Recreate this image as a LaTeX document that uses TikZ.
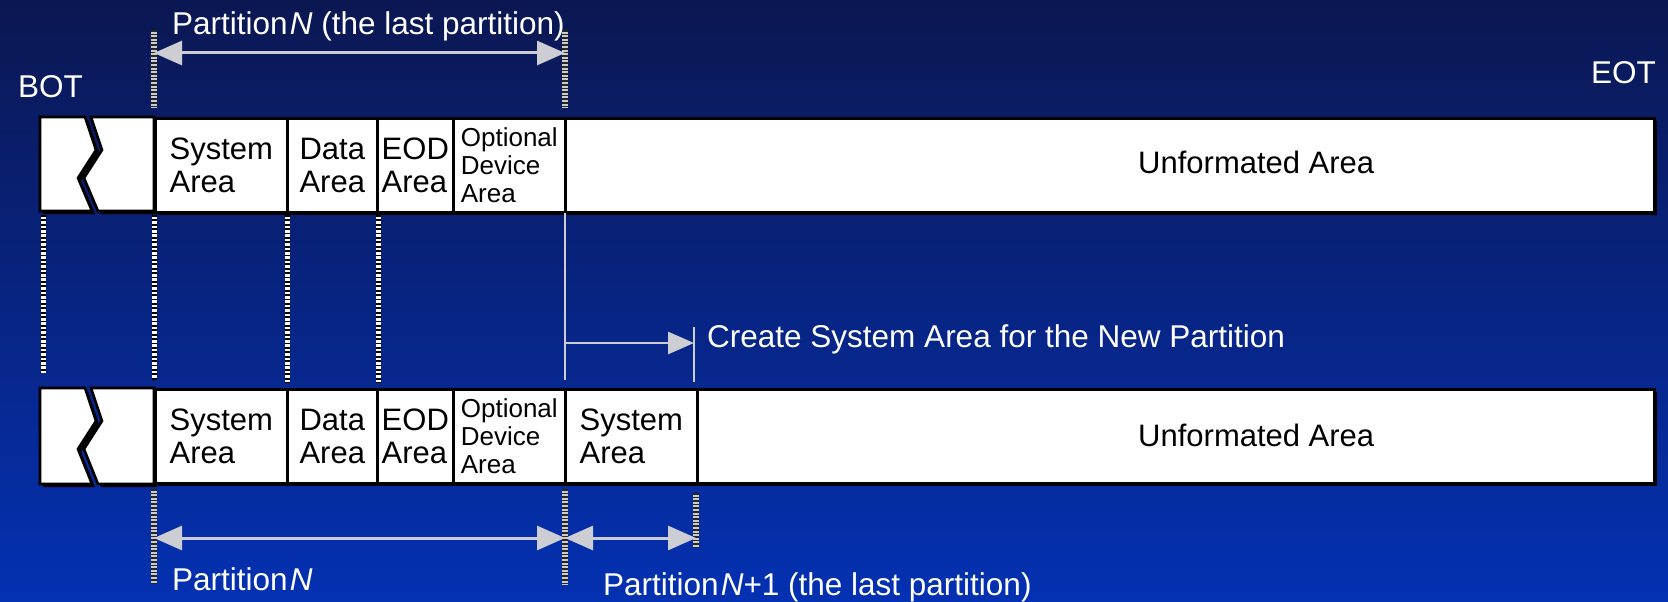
\documentclass[tikz,border=0pt]{standalone}
\usepackage{fontspec}
\setmainfont{Liberation Sans}
\usetikzlibrary{arrows.meta,shadows}

\definecolor{bgtop}{RGB}{11,23,82}
\definecolor{bgmid}{RGB}{6,37,140}
\definecolor{bgbot}{RGB}{4,49,178}
\definecolor{guide}{RGB}{205,205,212}

\tikzset{
  x=1pt, y=-1pt,
  shade/.style={drop shadow={shadow xshift=3pt, shadow yshift=-3pt, opacity=1, fill=black}},
  cell/.style={draw=black, line width=2.6pt, fill=white, anchor=north west, inner sep=0pt,
    minimum height=94pt, align=left, text=black, font=\fontsize{31}{33}\selectfont, shade},
  cellsmall/.style={font=\fontsize{26}{28}\selectfont},
  piece/.style={draw=black, line width=2.6pt, fill=white, line join=miter, shade},
  lbl/.style={text=white, inner sep=0pt, font=\fontsize{31.5}{33}\selectfont},
  celltext/.style={text=black, inner sep=0pt, font=\fontsize{31}{33}\selectfont},
  tick/.style={draw=white, line width=5pt,
    postaction={draw=black, line width=5pt, dash pattern=on 1.8pt off 2.6pt}},
  gauge/.style={draw=gray!40, line width=6pt,
    postaction={draw=black!85, line width=6pt, dash pattern=on 1.6pt off 2pt}},
  guideline/.style={draw=guide, line width=2.8pt},
  dim/.style={draw=guide, line width=3pt,
    {Triangle[length=28pt,width=24pt,fill=guide]}-{Triangle[length=28pt,width=24pt,fill=guide]}},
  push/.style={draw=guide, line width=2.8pt, -{Triangle[length=26pt,width=22pt,fill=guide]}},
}

\begin{document}
\begin{tikzpicture}
  % background
  \useasboundingbox (0,0) rectangle (1668,602);
  \shade[top color=bgtop, middle color=bgmid, bottom color=bgbot] (0,0) rectangle (1668,602);

  % ---------- upper tape ----------
  \path[piece] (40,117) -- (85,117) -- (96,150) -- (78,178) -- (92,211) -- (40,211) -- cycle;
  \path[piece] (91,117) -- (154,117) -- (154,211) -- (98,211) -- (84,178) -- (102,150) -- cycle;
  \node[cell, minimum width=132pt] (sysT)  at (154,117) {System\\Area};
  \node[cell, minimum width=90pt]  (dataT) at (286,117) {Data\\Area};
  \node[cell, minimum width=76pt]  (eodT)  at (376,117) {EOD\\Area};
  \node[cell, cellsmall, minimum width=112pt] (optT) at (452,117) {Optional\\Device\\Area};
  \node[cell, minimum width=1089pt] (unfT) at (564,117) {};
  \node[celltext, anchor=base west] (unfTtxt) at (1138,173) {Unformated Area};

  % ---------- lower tape ----------
  \path[piece] (40,388) -- (85,388) -- (96,421) -- (78,449) -- (92,484) -- (40,484) -- cycle;
  \path[piece] (91,388) -- (154,388) -- (154,484) -- (98,484) -- (84,449) -- (102,421) -- cycle;
  \node[cell, minimum width=132pt] (sysB)  at (154,388) {System\\Area};
  \node[cell, minimum width=90pt]  (dataB) at (286,388) {Data\\Area};
  \node[cell, minimum width=76pt]  (eodB)  at (376,388) {EOD\\Area};
  \node[cell, cellsmall, minimum width=112pt] (optB) at (452,388) {Optional\\Device\\Area};
  \node[cell, minimum width=132pt] (newSys) at (564,388) {System\\Area};
  \node[cell, minimum width=957pt] (unfB) at (696,388) {};
  \node[celltext, anchor=base west] (unfBtxt) at (1138,446) {Unformated Area};

  % ---------- end labels ----------
  \node[lbl, anchor=base west] (bot) at (18,97) {BOT};
  \node[lbl, anchor=base east] (eot) at (1656,83) {EOT};

  % ---------- partition N span above the upper tape ----------
  \coordinate (gTLa) at (154,30);  \coordinate (gTLb) at (154,108);
  \coordinate (gTRa) at (565,30);  \coordinate (gTRb) at (565,108);
  \draw[gauge] (gTLa) -- (gTLb);
  \draw[gauge] (gTRa) -- (gTRb);
  \coordinate (spanTL) at (154,53);
  \coordinate (spanTR) at (565,53);
  \draw[dim] (spanTL) -- (spanTR);
  \node[lbl, anchor=base west] (topLbl) at (172,35) {Partition\kern2pt\textit{N} (the last partition)};

  % ---------- boundary ticks between the tapes ----------
  \coordinate (t1a) at (43,215);  \coordinate (t1b) at (43,373);
  \coordinate (t2a) at (154,215); \coordinate (t2b) at (154,380);
  \coordinate (t3a) at (287,215); \coordinate (t3b) at (287,383);
  \coordinate (t4a) at (378,215); \coordinate (t4b) at (378,383);
  \draw[tick] (t1a) -- (t1b);
  \draw[tick] (t2a) -- (t2b);
  \draw[tick] (t3a) -- (t3b);
  \draw[tick] (t4a) -- (t4b);

  % ---------- new system area marker ----------
  \coordinate (vA) at (565,213);  \coordinate (vB) at (565,380);
  \coordinate (wA) at (694,327);  \coordinate (wB) at (694,382);
  \coordinate (pushS) at (565,343); \coordinate (pushE) at (694,343);
  \draw[guideline] (vA) -- (vB);
  \draw[guideline] (wA) -- (wB);
  \draw[push] (pushS) -- (pushE);
  \node[lbl, anchor=base west] (create) at (707,347) {Create System Area for the New Partition};

  % ---------- partition spans below the lower tape ----------
  \coordinate (gB1a) at (154,489); \coordinate (gB1b) at (154,583);
  \coordinate (gB2a) at (565,489); \coordinate (gB2b) at (565,585);
  \coordinate (gB3a) at (696,493); \coordinate (gB3b) at (696,548);
  \draw[gauge] (gB1a) -- (gB1b);
  \draw[gauge] (gB2a) -- (gB2b);
  \draw[gauge] (gB3a) -- (gB3b);
  \coordinate (spanB1) at (154,538);
  \coordinate (spanB2) at (565,538);
  \coordinate (spanB3) at (696,538);
  \draw[dim] (spanB1) -- (spanB2);
  \draw[dim] (spanB2) -- (spanB3);
  \node[lbl, anchor=base west] (pN)  at (172,590) {Partition\kern2pt\textit{N}};
  \node[lbl, anchor=base west] (pN1) at (603,595) {Partition\kern2pt\textit{N}+1 (the last partition)};
\end{tikzpicture}
\end{document}
